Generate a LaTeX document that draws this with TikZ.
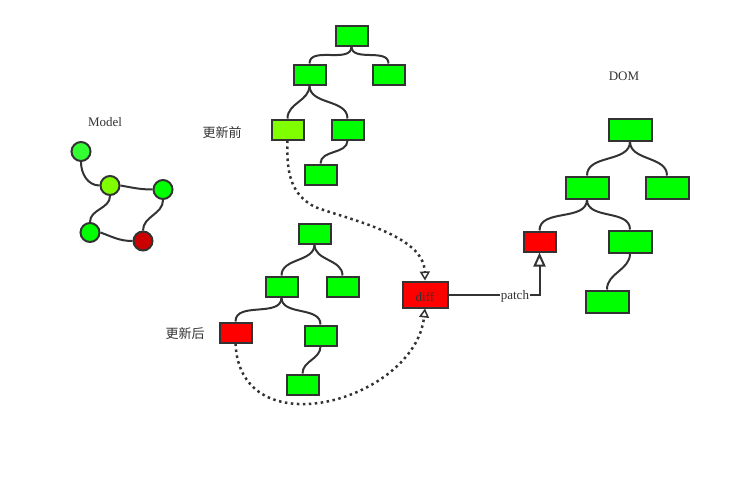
\documentclass[tikz,border=0pt]{standalone}
\usepackage{fontspec}
\setmainfont{Liberation Serif}
\newfontfamily\cjk{Noto Sans CJK SC}
\usetikzlibrary{arrows.meta}
\definecolor{ln}{HTML}{333333}
\definecolor{gr}{HTML}{00FF00}
\definecolor{lgr}{HTML}{80FF00}
\definecolor{mgr}{HTML}{33FF33}
\definecolor{rd}{HTML}{FF0000}
\definecolor{drd}{HTML}{CC0000}
\tikzset{
  box/.style={draw=ln, line width=2pt, fill=gr, minimum width=32pt, minimum height=20pt, inner sep=0pt},
  bigbox/.style={box, minimum width=43pt, minimum height=22pt},
  circ/.style={circle, draw=ln, line width=2pt, fill=gr, minimum size=19pt, inner sep=0pt},
  edge/.style={draw=ln, line width=2pt},
  dotline/.style={draw=ln, line width=2.5pt, dash pattern=on 2.5pt off 3.5pt, -{Triangle[open, length=9pt, width=10pt, line width=1.5pt]}},
  lbl/.style={text=ln, font=\fontsize{13}{15}\selectfont},
  cjklbl/.style={text=ln, font=\cjk\fontsize{13}{15}\selectfont},
}
\begin{document}
\begin{tikzpicture}[x=1pt, y=-1pt]
\useasboundingbox (0,0) rectangle (729,490);

% Model
\node[lbl] (modellbl) at (105,122) {Model};
\node[circ, fill=mgr] (m1) at (81,151.5) {};
\node[circ, fill=lgr] (m2) at (110,185.5) {};
\node[circ] (m3) at (163,189.5) {};
\node[circ] (m4) at (90,232.5) {};
\node[circ, fill=drd] (m5) at (143,241) {};
\draw[edge] (m1.south) to[out=-90, in=180] (m2.west);
\draw[edge] (m2.east) to[out=-10, in=180] (m3.west);
\draw[edge] (m2.south) to[out=-90, in=90] (m4.north);
\draw[edge] (m4.east) to[out=-20, in=180] (m5.west);
\draw[edge] (m3.south) to[out=-90, in=90] (m5.north);

% Before tree
\node[cjklbl] (beforelbl) at (222,133) {更新前};
\node[box] (t1) at (351.5,35.5) {};
\node[box] (t2) at (309.5,74.5) {};
\node[box] (t3) at (388.5,74.5) {};
\node[box, fill=lgr] (t4) at (287.5,129.5) {};
\node[box] (t5) at (347.5,129.5) {};
\node[box] (t6) at (320.5,174.5) {};
\foreach \p/\c in {t1/t2, t1/t3, t2/t4, t2/t5, t5/t6}
  \draw[edge] (\p.south) to[out=-90, in=90] (\c.north);

% After tree
\node[cjklbl] (afterlbl) at (185,334) {更新后};
\node[box] (a1) at (314.5,233.5) {};
\node[box] (a2) at (281.5,286.5) {};
\node[box] (a3) at (342.5,286.5) {};
\node[box, fill=rd] (a4) at (235.5,332.5) {};
\node[box] (a5) at (320.5,335.5) {};
\node[box] (a6) at (302.5,384.5) {};
\foreach \p/\c in {a1/a2, a1/a3, a2/a4, a2/a5, a5/a6}
  \draw[edge] (\p.south) to[out=-90, in=90] (\c.north);

% diff
\node[box, fill=rd, minimum width=45pt, minimum height=26pt, lbl] (diff) at (425,294.5) {};
\node[lbl] (difflbl) at (425,297) {diff};
\draw[dotline] (t4.south) .. controls (286,175) and (292,195) .. (315,207)
   .. controls (350,220) and (424,235) .. (diff.north);
\draw[dotline] (a4.south) .. controls (240,450) and (415,400) .. (diff.south);

% DOM tree
\node[lbl] (domlbl) at (624,76) {DOM};
\node[bigbox] (d1) at (630,129.5) {};
\node[bigbox] (d2) at (587,187.5) {};
\node[bigbox] (d3) at (667,187.5) {};
\node[box, fill=rd] (d4) at (539.5,241.5) {};
\node[bigbox] (d5) at (630,241.5) {};
\node[bigbox] (d6) at (607,301.5) {};
\foreach \p/\c in {d1/d2, d1/d3, d2/d4, d2/d5, d5/d6}
  \draw[edge] (\p.south) to[out=-90, in=90] (\c.north);

% patch
\draw[edge, -{Triangle[open, length=14pt, width=12pt, line width=2pt]}] (diff.east) -| (d4.south)
  node[pos=0.365, fill=white, inner sep=1pt, lbl, yshift=-2pt] (patchlbl) {patch};
\end{tikzpicture}
\end{document}
